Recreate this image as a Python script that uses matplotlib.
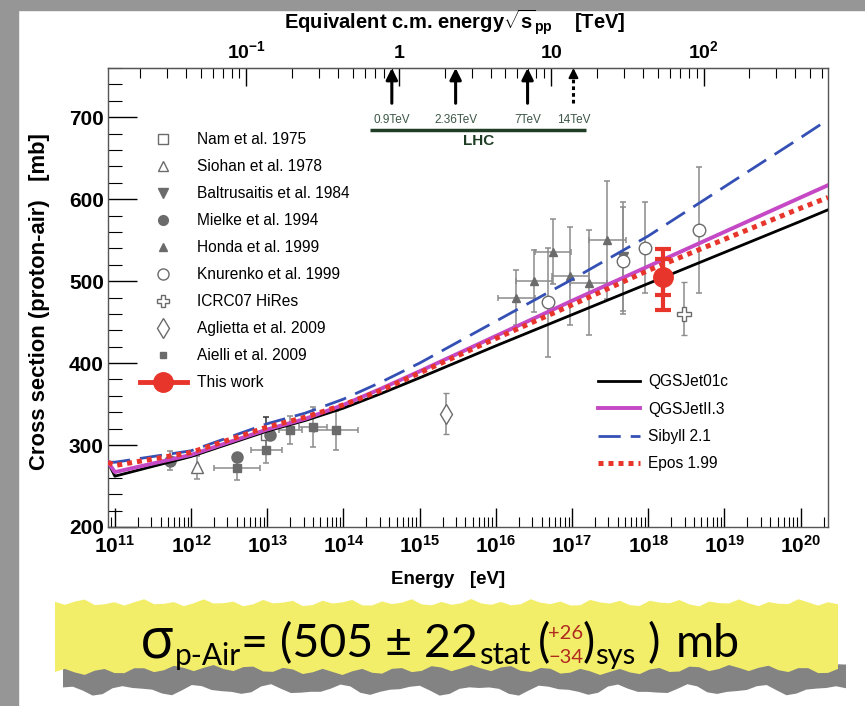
import matplotlib
matplotlib.use("Agg")
import matplotlib.pyplot as plt
import numpy as np
from matplotlib.lines import Line2D
from matplotlib.patches import Rectangle, Polygon
from matplotlib.ticker import LogLocator, NullFormatter, MultipleLocator
from matplotlib.transforms import IdentityTransform

plt.rcParams['font.family'] = ['Liberation Sans', 'DejaVu Sans']
plt.rcParams['mathtext.fontset'] = 'custom'
plt.rcParams['mathtext.rm'] = 'Liberation Sans'
plt.rcParams['mathtext.bf'] = 'Liberation Sans:bold'
plt.rcParams['mathtext.it'] = 'Liberation Sans:italic'

# model predictions, log10(E/eV) vs sigma_p-air [mb]
model_logE = [10.91, 11.0, 12.0, 13.0, 13.5, 14.0, 14.5, 15.0, 16.0, 17.0, 18.0, 19.0, 20.0, 20.36]
qgsjet01c = [279, 262, 286, 317, 330, 345, 363, 382, 421, 459, 497, 535, 573, 587]
qgsjetII3 = [279, 267, 288, 319, 332, 349, 369, 390, 433, 476, 518, 560, 602, 617]
sibyll21 = [279, 279, 293, 326, 339, 356, 377, 400, 451, 502, 555, 615, 675, 697]
epos199 = [279, 275, 291, 322, 334, 349, 367, 388, 430, 471, 513, 551, 589, 602]

# measurements: log10(E/eV), sigma [mb], errors
nam_logE, nam_sig, nam_err = [12.99], [312], [22]
siohan_logE, siohan_sig, siohan_err = [12.08], [273], [14]
baltr_logE, baltr_sig, baltr_err = [17.67], [530], [66]
mielke_logE, mielke_sig, mielke_err = [11.72, 12.60, 13.03], [281, 286, 312], [12, 0, 0]
honda_logE = [16.27, 16.50, 16.75, 16.98, 17.22, 17.465]
honda_sig = [480, 500, 536, 506, 498, 550]
honda_err = [33, 38, 40, 60, 64, 72]
honda_xerr = [0.24, 0.24, 0.24, 0.24, 0.24, 0.24]
knur_logE = [16.68, 17.67, 17.96, 18.67]
knur_sig = [474, 525, 541, 562]
knur_err = [67, 65, 55, 77]
hires_logE, hires_sig, hires_lo, hires_hi = [18.47], [460], [26], [39]
aglietta_logE, aglietta_sig, aglietta_err = [15.34], [338], [25]
aielli_logE = [12.60, 12.99, 13.30, 13.60, 13.90]
aielli_sig = [272, 294, 318, 322, 318]
aielli_err = [15, 16, 17, 24, 24]
aielli_xerr = [0.30, 0.20, 0.15, 0.18, 0.29]

# this work
auger_logE = 18.2
auger_sig = 505
auger_stat = 22
auger_sys_hi, auger_sys_lo = 26, 34

# LHC energies [TeV]
lhc_energies = [0.9, 2.36, 7, 14]
lhc_labels = ['0.9TeV', '2.36TeV', '7TeV', '14TeV']
lhc_range = [0.65, 17]

M_P = 0.938e9  # proton mass [eV]


def ev_to_tev(e):
    e = np.asarray(e, dtype=float)
    return np.sqrt(2 * M_P * np.clip(e, 1e-300, None)) / 1e12


def tev_to_ev(s):
    s = np.asarray(s, dtype=float)
    return (s * 1e12) ** 2 / (2 * M_P)


def logerr(logE, dlog):
    logE, dlog = np.asarray(logE), np.asarray(dlog)
    return [10 ** logE - 10 ** (logE - dlog), 10 ** (logE + dlog) - 10 ** logE]


W, H = 865, 706
fig = plt.figure(figsize=(W / 100, H / 100), dpi=100)
fig.patch.set_facecolor('white')
fig.patches.append(Rectangle((0, 0), 18 / W, 1, transform=fig.transFigure, color='#969696', zorder=-5))
fig.patches.append(Rectangle((0, 1 - 10 / H), 1, 10 / H, transform=fig.transFigure, color='#969696', zorder=-5))

ax = fig.add_axes([108 / W, (H - 527) / H, 720 / W, (527 - 68) / H])
ax.set_xscale('log')
ax.set_xlim(10 ** 10.91, 10 ** 20.36)
ax.set_ylim(200, 760)

E = 10 ** np.array(model_logE)
ax.plot(E, qgsjet01c, color='black', lw=2, zorder=3)
ax.plot(E, qgsjetII3, color='#c548c5', lw=2.8, zorder=3)
ax.plot(E, sibyll21, color='#3550b5', lw=2, ls=(0, (8, 3.6)), zorder=3)
ax.plot(E, epos199, color='#e8352b', lw=3.6, ls=(0, (1, 1)), zorder=4)

gray = '#6b6b6b'
ebar = dict(ecolor='#8c8c8c', elinewidth=1.1, capsize=2.5, capthick=1.1, ls='none', zorder=2)

ax.errorbar(10 ** np.array(nam_logE), nam_sig, yerr=nam_err, marker='s', ms=7,
            mfc='white', mec=gray, **{**ebar, 'ecolor': '#333333'})
ax.errorbar(10 ** np.array(siohan_logE), siohan_sig, yerr=siohan_err, marker='^', ms=9,
            mfc='white', mec=gray, **ebar)
ax.errorbar(10 ** np.array(baltr_logE), baltr_sig, yerr=baltr_err, marker='v', ms=7,
            color=gray, **ebar)
ax.errorbar(10 ** np.array(mielke_logE), mielke_sig, yerr=mielke_err, marker='o', ms=8,
            color=gray, **ebar)
ax.errorbar(10 ** np.array(honda_logE), honda_sig, yerr=honda_err,
            xerr=logerr(honda_logE, honda_xerr), marker='^', ms=6, color=gray, **ebar)
ax.errorbar(10 ** np.array(knur_logE), knur_sig, yerr=knur_err, marker='o', ms=9,
            mfc='white', mec=gray, **ebar)
ax.errorbar(10 ** np.array(hires_logE), hires_sig, yerr=[hires_lo, hires_hi], marker='P', ms=10,
            mfc='white', mec=gray, mew=1, **ebar)
ax.errorbar(10 ** np.array(aglietta_logE), aglietta_sig, yerr=aglietta_err, marker='d', ms=10,
            mfc='white', mec=gray, mew=1, **ebar)
ax.errorbar(10 ** np.array(aielli_logE), aielli_sig, yerr=aielli_err,
            xerr=logerr(aielli_logE, aielli_xerr), marker='s', ms=5.5, color=gray, **ebar)

red = '#e8352b'
tot_hi = np.hypot(auger_stat, auger_sys_hi)
tot_lo = np.hypot(auger_stat, auger_sys_lo)
ax.errorbar([10 ** auger_logE], [auger_sig], yerr=[[tot_lo], [tot_hi]], fmt='none',
            ecolor=red, elinewidth=3, capsize=6, capthick=3, zorder=6)
ax.errorbar([10 ** auger_logE], [auger_sig], yerr=auger_stat, fmt='o', ms=14, color=red,
            elinewidth=3, capsize=6, capthick=3, zorder=6)

# axes styling
ax.set_xticks(10.0 ** np.arange(11, 21))
ax.set_xticklabels([r'$\mathbf{10^{%d}}$' % k for k in range(11, 21)], fontsize=15)
ax.xaxis.set_minor_locator(LogLocator(base=10, subs=np.arange(2, 10), numticks=40))
ax.xaxis.set_minor_formatter(NullFormatter())
ax.set_yticks(np.arange(200, 701, 100))
ax.set_yticklabels([str(v) for v in range(200, 701, 100)], fontsize=15, fontweight='bold')
ax.yaxis.set_minor_locator(MultipleLocator(20))
ax.tick_params(axis='x', which='major', direction='in', length=14, width=1, top=False, pad=6)
ax.tick_params(axis='x', which='minor', direction='in', length=7, width=0.8, top=False)
ax.tick_params(axis='y', which='major', direction='in', length=21, width=1, right=False, pad=3)
ax.tick_params(axis='y', which='minor', direction='in', length=10, width=0.8, right=False)
for sp in ax.spines.values():
    sp.set_color('#555555')
    sp.set_linewidth(1)

fig.text(40 / W, 1 - 302 / H, 'Cross section (proton-air)   [mb]', rotation=90,
         ha='center', va='center', fontsize=15.8, fontweight='bold')
ax.text(0.472, -0.115, 'Energy   [eV]', transform=ax.transAxes, ha='center', va='center',
        fontsize=13.5, fontweight='bold')

secax = ax.secondary_xaxis('top', functions=(ev_to_tev, tev_to_ev))
secax.set_xticks([0.1, 1, 10, 100])
secax.set_xticklabels([r'$\mathbf{10^{-1}}$', r'$\mathbf{1}$', r'$\mathbf{10}$', r'$\mathbf{10^{2}}$'],
                      fontsize=14)
secax.xaxis.set_minor_locator(LogLocator(base=10, subs=np.arange(2, 10), numticks=40))
secax.xaxis.set_minor_formatter(NullFormatter())
secax.tick_params(which='major', direction='in', length=13, width=1, pad=4)
secax.tick_params(which='minor', direction='in', length=7, width=0.8)
secax.spines['top'].set_color('#555555')
fig.text(455 / W, 1 - 22 / H, r'Equivalent c.m. energy$\mathbf{\sqrt{s}_{pp}}$    [TeV]',
         ha='center', va='center', fontsize=14.5, fontweight='bold')

# LHC energies
green = '#1f3d24'
for s, lab in zip(lhc_energies, lhc_labels):
    e = tev_to_ev(s)
    if s == 14:
        ax.plot([e, e], [717, 748], color='black', lw=2.2, ls=(0, (1.2, 1)), zorder=5)
        ax.annotate('', xy=(e, 760), xytext=(e, 748),
                    arrowprops=dict(arrowstyle='-|>', color='black', lw=1.5, mutation_scale=14,
                                    shrinkA=0, shrinkB=0), annotation_clip=False)
    else:
        ax.annotate('', xy=(e, 760), xytext=(e, 717),
                    arrowprops=dict(arrowstyle='-|>', color='black', lw=2.2, mutation_scale=17,
                                    shrinkA=0, shrinkB=0), annotation_clip=False)
    ax.text(e, 697, lab, ha='center', va='center', fontsize=8.5, color='#3c5646')
ax.plot(tev_to_ev(np.array(lhc_range)), [684, 684], color=green, lw=2.5, solid_capstyle='butt')
ax.text(tev_to_ev(np.sqrt(lhc_range[0] * lhc_range[1])), 671, 'LHC', ha='center', va='center',
        fontsize=11, fontweight='bold', color=green)

# legends
data_handles = [
    Line2D([], [], ls='none', marker='s', ms=7, mfc='white', mec=gray),
    Line2D([], [], ls='none', marker='^', ms=7, mfc='white', mec=gray),
    Line2D([], [], ls='none', marker='v', ms=7, color=gray),
    Line2D([], [], ls='none', marker='o', ms=7, color=gray),
    Line2D([], [], ls='none', marker='^', ms=5.5, color=gray),
    Line2D([], [], ls='none', marker='o', ms=8, mfc='white', mec=gray),
    Line2D([], [], ls='none', marker='P', ms=9, mfc='white', mec=gray, mew=1),
    Line2D([], [], ls='none', marker='d', ms=10, mfc='white', mec=gray, mew=1),
    Line2D([], [], ls='none', marker='s', ms=5, color=gray),
    Line2D([], [], color=red, lw=3.5, marker='o', ms=14),
]
data_labels = ['Nam et al. 1975', 'Siohan et al. 1978', 'Baltrusaitis et al. 1984',
               'Mielke et al. 1994', 'Honda et al. 1999', 'Knurenko et al. 1999',
               'ICRC07 HiRes', 'Aglietta et al. 2009', 'Aielli et al. 2009', 'This work']
leg1 = ax.legend(data_handles, data_labels, loc='upper left', bbox_to_anchor=(0.044, 0.86),
                 frameon=False, fontsize=11.2, handlelength=3.05, handletextpad=0.65,
                 labelspacing=0.77, borderpad=0, borderaxespad=0)
ax.add_artist(leg1)

model_handles = [
    Line2D([], [], color='black', lw=2),
    Line2D([], [], color='#c548c5', lw=2.8),
    Line2D([], [], color='#3550b5', lw=2, ls=(0, (8, 3.6))),
    Line2D([], [], color=red, lw=3.6, ls=(0, (1, 1))),
]
ax.legend(model_handles, ['QGSJet01c', 'QGSJetII.3', 'Sibyll 2.1', 'Epos 1.99'],
          loc='upper left', bbox_to_anchor=(0.6806, 0.333), frameon=False, fontsize=11.2,
          handlelength=2.7, handletextpad=0.5, labelspacing=0.8, borderpad=0, borderaxespad=0)

# result banner at the bottom
xs = np.linspace(55, 838, 80)
top_edge = 603 + 2.5 * np.sin(xs * 0.21) + 1.5 * np.sin(xs * 0.73)
bot_edge = 670 + 3 * np.sin(xs * 0.17) + 2 * np.sin(xs * 0.61)
sh_top = 662 + 3 * np.sin(xs * 0.13)
sh_bot = 690 + 4 * np.sin(xs * 0.09) + 2 * np.sin(xs * 0.47)


def to_fig(px, py):
    return np.column_stack([np.asarray(px) / W, 1 - np.asarray(py) / H])


shadow = np.vstack([to_fig(xs + 8, sh_top), to_fig(xs[::-1] + 8, sh_bot[::-1])])
fig.patches.append(Polygon(shadow, closed=True, transform=fig.transFigure,
                           facecolor='#5a5a5a', edgecolor='none', alpha=0.75, zorder=-2))
banner = np.vstack([to_fig(xs, top_edge), to_fig(xs[::-1], bot_edge[::-1])])
fig.patches.append(Polygon(banner, closed=True, transform=fig.transFigure,
                           facecolor='#f2ee6a', edgecolor='none', zorder=-1))

renderer = fig.canvas.get_renderer()
bfont = ['Lato', 'DejaVu Sans']
base_y = H - 657
cursor = [140.0]


def put(s, size, dy=0, color='black', gap=0, family=bfont):
    t = fig.text(cursor[0], base_y + dy, s, transform=IdentityTransform(), fontsize=size,
                 family=family, color=color, ha='left', va='baseline')
    cursor[0] += t.get_window_extent(renderer).width + gap
    return t


put('σ', 40, gap=1, family=['Open Sans', 'Noto Sans', 'DejaVu Sans'])
put('p-Air', 21.5, dy=-8)
put('= (505 ± 22', 33.5, gap=2)
put('stat', 22.5, dy=-7, gap=6)
put('(', 33)
xc = cursor[0] + 16
fig.text(xc, base_y + 18, '+26', transform=IdentityTransform(), fontsize=14.5, family=bfont,
         color='#b02a1e', ha='center', va='baseline')
fig.text(xc, base_y - 6, '−34', transform=IdentityTransform(), fontsize=14.5, family=bfont,
         color='#b02a1e', ha='center', va='baseline')
cursor[0] += 33
put(')', 33)
put('sys', 21, dy=-7, gap=12)
put(')', 33.5, gap=16)
put('mb', 33.5)

fig.savefig('out.png', dpi=100)
